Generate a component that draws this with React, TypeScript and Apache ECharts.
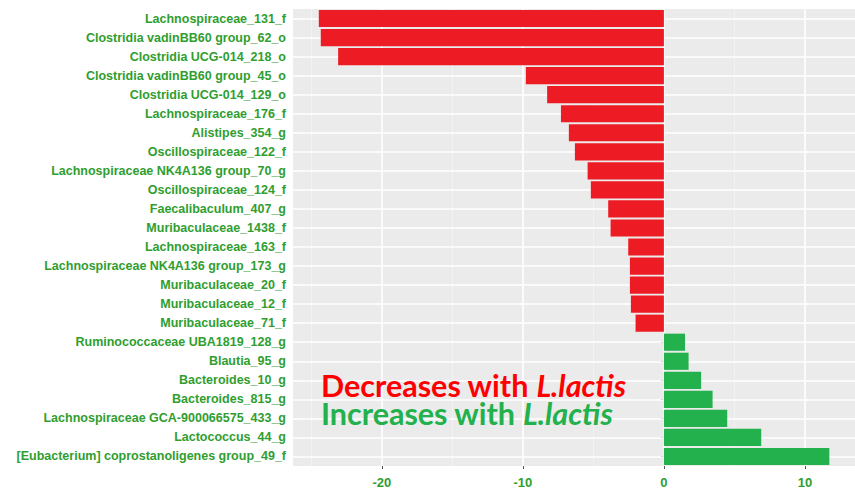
import React, { useEffect, useRef } from "react";
import * as echarts from "echarts";

const categories = [
  "Lachnospiraceae_131_f",
  "Clostridia vadinBB60 group_62_o",
  "Clostridia UCG-014_218_o",
  "Clostridia vadinBB60 group_45_o",
  "Clostridia UCG-014_129_o",
  "Lachnospiraceae_176_f",
  "Alistipes_354_g",
  "Oscillospiraceae_122_f",
  "Lachnospiraceae NK4A136 group_70_g",
  "Oscillospiraceae_124_f",
  "Faecalibaculum_407_g",
  "Muribaculaceae_1438_f",
  "Lachnospiraceae_163_f",
  "Lachnospiraceae NK4A136 group_173_g",
  "Muribaculaceae_20_f",
  "Muribaculaceae_12_f",
  "Muribaculaceae_71_f",
  "Ruminococcaceae UBA1819_128_g",
  "Blautia_95_g",
  "Bacteroides_10_g",
  "Bacteroides_815_g",
  "Lachnospiraceae GCA-900066575_433_g",
  "Lactococcus_44_g",
  "[Eubacterium] coprostanoligenes group_49_f",
];

const values = [
  -24.47, -24.33, -23.1, -9.79, -8.28, -7.3, -6.74, -6.31, -5.41, -5.18,
  -3.95, -3.78, -2.53, -2.41, -2.41, -2.34, -2.01,
  1.5, 1.75, 2.64, 3.45, 4.49, 6.9, 11.73,
];

const xTickValues = [-20, -10, 0, 10];
const xMajorGrid = [-20, -10, 0, 10];
const xMinorGrid = [-25, -15, -5, 5];
const annotationLines = ["Decreases with ", "Increases with "];
const annotationItalic = "L.lactis";

const RED = "#ED1C24";
const GREEN = "#22B14C";
const LABEL_GREEN = "#2F9E2F";

export default function App() {
  const ref = useRef<HTMLDivElement>(null);
  useEffect(() => {
    document.body.style.margin = "0";
    if (!ref.current) return;
    const chart = echarts.init(ref.current, null, { renderer: "svg" });
    const gridLineData = [
      ...xMinorGrid.map((v) => ({ xAxis: v, lineStyle: { color: "#F4F4F4", width: 0.8, type: "solid" } })),
      ...xMajorGrid.map((v) => ({ xAxis: v, lineStyle: { color: "#FFFFFF", width: 1.6, type: "solid" } })),
      ...categories.map((c) => ({ yAxis: c, lineStyle: { color: "#FFFFFF", width: 1.6, type: "solid" } })),
    ];
    const annoStyle = (fill: string) => ({
      a: { fontFamily: "Lato", fontWeight: "bold", fontSize: 30.5, lineHeight: 26, fill, fontStyle: "normal" },
      b: { fontFamily: "Lato", fontWeight: "bold", fontSize: 30.5, lineHeight: 26, fill, fontStyle: "italic" },
    });
    chart.setOption({
      animation: false,
      grid: {
        left: 293,
        right: 0,
        top: 9,
        bottom: 24,
        show: true,
        backgroundColor: "#EBEBEB",
        borderWidth: 0,
      },
      xAxis: {
        type: "value",
        min: -26.3,
        max: 13.55,
        axisLine: { show: false },
        splitLine: { show: false },
        axisTick: {
          show: true,
          customValues: xTickValues,
          length: 3,
          lineStyle: { color: "#555", width: 1 },
        },
        axisLabel: {
          customValues: xTickValues,
          color: LABEL_GREEN,
          fontWeight: "bold",
          fontSize: 13,
          fontFamily: "Liberation Sans",
          margin: 10,
        },
      },
      yAxis: {
        type: "category",
        data: categories,
        inverse: true,
        axisLine: { show: false },
        splitLine: { show: false },
        axisTick: {
          show: true,
          alignWithLabel: true,
          length: 3,
          lineStyle: { color: "#555", width: 1 },
        },
        axisLabel: {
          color: LABEL_GREEN,
          fontWeight: "bold",
          fontSize: 12.5,
          fontFamily: "Liberation Sans",
          margin: 7,
        },
      },
      series: [
        {
          type: "line",
          z: 1,
          data: [],
          silent: true,
          markLine: {
            silent: true,
            z: 1,
            symbol: "none",
            label: { show: false },
            data: gridLineData,
          },
        },
        {
          type: "bar",
          z: 3,
          barCategoryGap: "10%",
          data: values.map((v) => ({
            value: v,
            itemStyle: { color: v < 0 ? RED : GREEN },
          })),
        },
      ],
      graphic: [
        {
          type: "text",
          x: 321,
          y: 385,
          z: 10,
          style: {
            text: `{a|${annotationLines[0]}}{b|${annotationItalic}}`,
            verticalAlign: "middle",
            rich: annoStyle("#FF0000"),
          },
        },
        {
          type: "text",
          x: 321,
          y: 413,
          z: 10,
          style: {
            text: `{a|${annotationLines[1]}}{b|${annotationItalic}}`,
            verticalAlign: "middle",
            rich: annoStyle(GREEN),
          },
        },
      ],
    });
    return () => chart.dispose();
  }, []);
  return <div ref={ref} style={{ width: 855, height: 490 }} />;
}
